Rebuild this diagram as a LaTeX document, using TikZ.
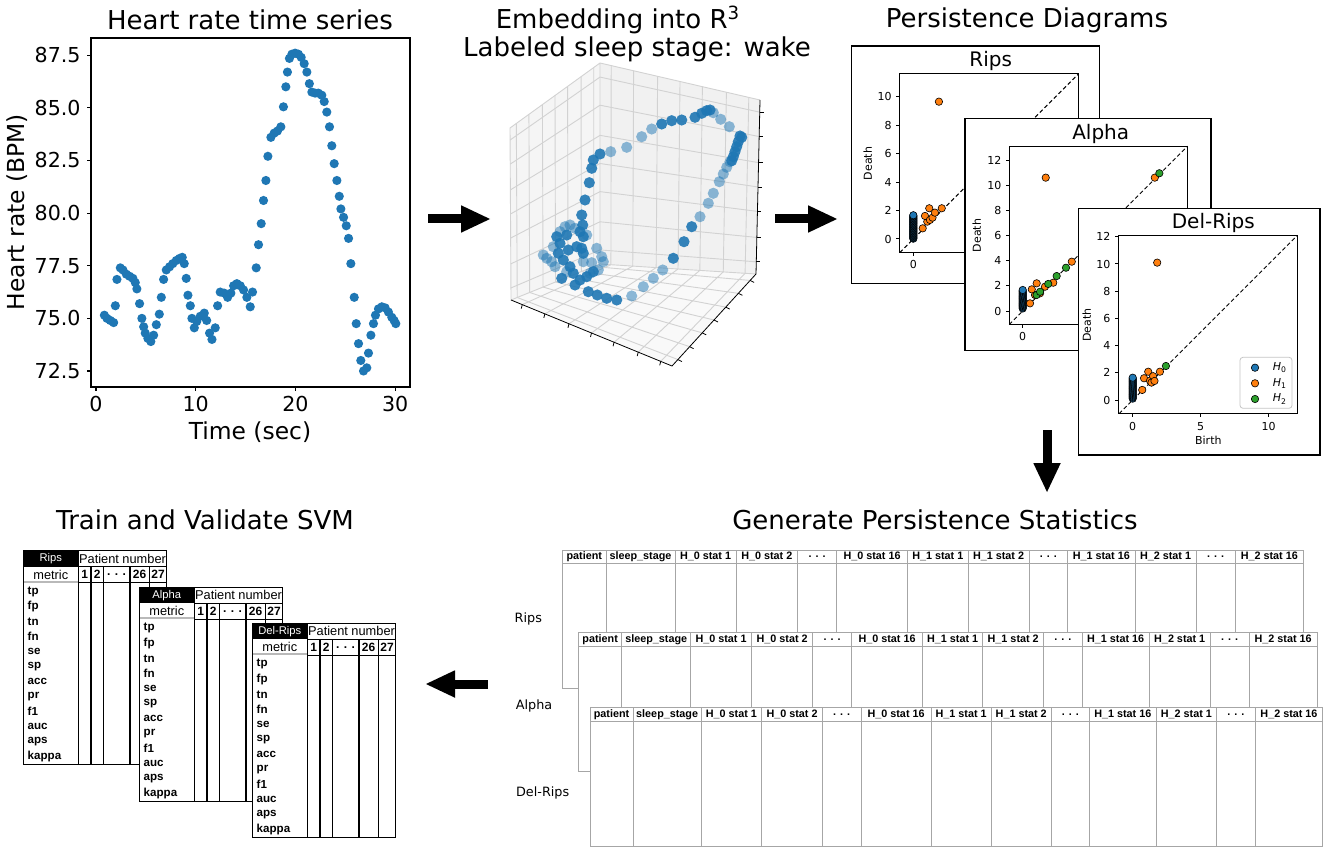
\documentclass[tikz,border=0pt]{standalone}
\usepackage{fontspec}
\setmainfont{DejaVu Sans}
\newfontfamily\tabfont{Liberation Sans}
\usetikzlibrary{arrows.meta,calc}
\definecolor{mplblue}{HTML}{1F77B4}
\definecolor{mplorange}{HTML}{FF7F0E}
\definecolor{mplgreen}{HTML}{2CA02C}

\begin{document}
\begin{tikzpicture}
[x=0.5pt, y=-0.5pt,
  titletext/.style={font=\fontsize{13}{15}\selectfont, inner sep=0pt, anchor=base},%
  axislabel/.style={font=\fontsize{11.7}{13}\selectfont, inner sep=0pt},%
  hrtick/.style={font=\fontsize{10.3}{12}\selectfont, inner sep=0pt},%
  axisline/.style={line width=0.6pt},%
  hrdot/.style={fill=mplblue},%
  gridline/.style={draw=gray!35, line width=0.45pt},%
  embdark/.style={fill=mplblue, opacity=0.9},%
  emblight/.style={fill=mplblue, opacity=0.5},%
  bigarrow/.style={line width=4.5pt, -{Triangle[length=15pt,width=12.5pt]}},%
  pdframe/.style={draw, line width=0.65pt, fill=white},%
  pdaxis/.style={line width=0.5pt},%
  pddiag/.style={dash pattern=on 2pt off 1.3pt, line width=0.5pt},%
  pdtitle/.style={font=\fontsize{10}{12}\selectfont, inner sep=0pt},%
  pdtick/.style={font=\fontsize{5.5}{6.5}\selectfont, inner sep=0pt},%
  hzero/.style={fill=mplblue, draw=black, line width=0.3pt},%
  hone/.style={fill=mplorange, draw=black, line width=0.3pt},%
  htwo/.style={fill=mplgreen, draw=black, line width=0.3pt},%
  statline/.style={draw=gray!70, line width=0.5pt},%
  stathead/.style={font=\tabfont\bfseries\fontsize{5.4}{6}\selectfont, inner sep=0pt},%
  statname/.style={font=\fontsize{6.4}{7.5}\selectfont, inner sep=0pt},%
  svmline/.style={line width=0.65pt},%
  svmhead/.style={font=\tabfont\fontsize{5.6}{6.5}\selectfont, inner sep=0pt},%
  svmtop/.style={font=\tabfont\fontsize{6.4}{7.5}\selectfont, inner sep=0pt},%
  svmnum/.style={font=\tabfont\bfseries\fontsize{6}{7}\selectfont, inner sep=0pt},%
  svmrow/.style={font=\tabfont\bfseries\fontsize{5.8}{7}\selectfont, inner sep=0pt, anchor=west}]
\useasboundingbox (0,0) rectangle (1325,855);

%% heart rate time series
\node[titletext] (hrtitle) at (250,29.3) {Heart rate time series};
\draw[axisline] (91,38) rectangle (410,387);
\foreach \t in {0,10,20,30} {
  \draw[axisline] (96+9.97*\t,387) -- ++(0,4);
  \node[hrtick, anchor=north] (hrx\t) at (96+9.97*\t,396) {\t};
}
\foreach \v [count=\k] in {72.5,75.0,77.5,80.0,82.5,85.0,87.5} {
  \draw[axisline] (91,{371-21.05*(\v-72.5)}) -- ++(-4,0);
  \node[hrtick, anchor=east] (hry\k) at (81,{371-21.05*(\v-72.5)}) {\v};
}
\node[axislabel] (hrxlabel) at (250,432) {Time (sec)};
\node[axislabel, rotate=90] (hrylabel) at (17,212) {Heart rate (BPM)};
\begin{scope}[shift={(96,371)}, x=4.985pt, y=10.525pt]
\foreach \t/\v in {0.84/75.15, 1.1/75.0, 1.44/74.9, 1.77/74.8, 1.94/75.6, 2.1/76.85,
  2.44/77.4, 2.7/77.3, 3.04/77.1, 3.37/77.0, 3.7/76.9, 3.94/76.7, 4.1/76.4, 4.37/75.7,
  4.6/75.0, 4.78/74.6, 4.94/74.3, 5.2/74.05, 5.5/73.9, 5.78/74.2, 6.05/74.7, 6.35/75.2,
  6.55/76.0, 6.78/76.85, 7.05/77.3, 7.38/77.45, 7.7/77.6, 8.05/77.75, 8.39/77.85,
  8.65/77.9, 8.85/77.6, 9.05/76.9, 9.22/76.1, 9.46/75.6, 9.62/75.0, 9.86/74.55,
  10.1/74.85, 10.46/75.1, 10.86/75.25, 11.1/74.9, 11.39/74.3, 11.63/74.0, 11.96/74.55,
  12.2/75.6, 12.46/76.25, 12.86/76.2, 13.2/76.0, 13.53/76.2, 13.8/76.55, 14.13/76.65,
  14.47/76.55, 14.8/76.35, 15.13/76.0, 15.47/75.55, 15.7/76.25, 16.07/77.4, 16.3/78.5,
  16.57/79.5, 16.8/80.6, 17.04/81.55, 17.24/82.7, 17.54/83.6, 17.87/83.8, 18.2/83.9,
  18.54/84.1, 18.8/85.05, 19.04/86.0, 19.2/86.7, 19.4/87.35, 19.65/87.55, 19.98/87.6,
  20.3/87.55, 20.58/87.4, 20.88/87.1, 21.15/86.7, 21.4/86.15, 21.65/85.75, 21.98/85.7,
  22.3/85.7, 22.65/85.6, 22.89/85.3, 23.15/84.8, 23.42/84.1, 23.65/83.2, 23.89/82.35,
  24.16/81.55, 24.4/80.8, 24.56/80.2, 24.83/79.8, 25.1/79.4, 25.33/78.8, 25.56/77.6,
  25.9/76.0, 26.1/74.75, 26.33/73.8, 26.56/73.0, 26.83/72.5, 27.16/72.65, 27.33/73.35,
  27.57/74.2, 27.83/74.75, 28.03/75.15, 28.33/75.45, 28.67/75.55, 29.0/75.5, 29.33/75.3,
  29.67/75.05, 29.9/74.9, 30.07/74.75}
  \fill[hrdot] (\t,\v-72.5) circle (2.3pt);
\end{scope}

%% embedding into R^3
\node[titletext] (embtitle) at (618,28.3) {Embedding into R\textsuperscript{3}};
\node[titletext] (embstage) at (637,56.7) {Labeled sleep stage: wake};
\coordinate (lb) at (511,300);
\coordinate (bb) at (600,264);
\coordinate (bt) at (600,63);
\coordinate (lt) at (510,128);
\coordinate (rb) at (756,274);
\coordinate (rt) at (760,100);
\coordinate (fr) at (672,366);
\fill[gray!8] (lb) -- (bb) -- (bt) -- (lt) -- cycle;
\fill[gray!11] (bb) -- (rb) -- (rt) -- (bt) -- cycle;
\fill[gray!5] (lb) -- (bb) -- (rb) -- (fr) -- cycle;
\draw[gridline] (lt) -- (bt) -- (rt) (bt) -- (bb) (lt) -- (lb) -- (bb) -- (rb);
\foreach \s in {0.07,0.21,0.36,0.5,0.64,0.79,0.93} {
  \draw[gridline] ($(lb)!\s!(bb)$) -- ($(lt)!\s!(bt)$);
  \draw[gridline] ($(lb)!\s!(lt)$) -- ($(bb)!\s!(bt)$);
  \draw[gridline] ($(bb)!\s!(rb)$) -- ($(bt)!\s!(rt)$);
  \draw[gridline] ($(bb)!\s!(bt)$) -- ($(rb)!\s!(rt)$);
  \draw[gridline] ($(lb)!\s!(bb)$) -- ($(fr)!\s!(rb)$);
  \draw[gridline] ($(lb)!\s!(fr)$) -- ($(bb)!\s!(rb)$);
  \draw[line width=0.4pt] ($(lb)!\s!(fr)$) -- ++(-1,4);
  \draw[line width=0.4pt] ($(fr)!\s!(rb)$) -- ++(4,2);
  \draw[line width=0.4pt] ($(rb)!\s!(rt)$) -- ++(4,0);
}
\draw[line width=0.4pt] (lb) -- (fr) -- (rb) -- (rt);
\foreach \x/\y in {631.7/296, 643.3/286.7, 653.3/278.3, 662.7/270, 700/216.7, 708.3/203.3,
  713.3/193.3, 719.3/181.7, 723.3/174, 726.7/167.3, 730/161.7, 729.3/126.7, 720.7/119.3,
  713.3/112.7, 651.7/129, 641.7/136.7, 626.7/147.3, 610.7/151.7, 543.3/255, 546.7/258.3,
  551.7/261.7, 565/226.7, 570/225, 575/228.3, 586.7/235, 596.7/248.3, 601.7/256.7,
  603.3/261.7, 598.3/270, 591.7/262.7, 560/231.7, 553.3/246.7, 566.7/271.7, 555/266.7,
  583.3/261.7, 590/273.3}
  \fill[emblight] (\x,\y) circle (2.8pt);
\foreach \x/\y in {588.3/291.7, 597.3/295, 606.7/298.3, 616.7/300, 580/280, 575/285,
  561.7/278.3, 573.3/273.3, 583.3/253.3, 581.7/248.3, 583.3/236.7, 582.7/225, 581.7/215,
  585/200, 589.3/182.7, 591.7/168.3, 593.3/160, 600/154, 661.7/124, 671.7/120.7,
  681.7/120, 695/117.3, 701.7/113.3, 706.7/110.7, 710/110, 740/136, 741.7/137.3,
  738.3/141.7, 736.7/146.7, 735/151.7, 733.3/156.7, 731.7/160.7, 691.7/226.7, 684/241.7,
  673.3/258.3, 560/243.3, 558.3/253.3, 563.3/260, 570/266.7, 586.7/276.7, 593.3/271.7,
  556.7/236.7, 566.7/235, 580/231.7, 576.7/246.7, 568.3/250}
  \fill[embdark] (\x,\y) circle (2.8pt);

%% persistence diagrams
\node[titletext] (pdtitle) at (1027,28) {Persistence Diagrams};
% Rips
\draw[pdframe] (851.7,46) rectangle (1099.3,283.3);
\node[pdtitle] (ripstitle) at (990.7,60.7) {Rips};
\begin{scope}[shift={(913.3,239)}, x=7.115pt, y=7.115pt]
  \draw[pdaxis] (-0.95,-0.95) rectangle (11.6,11.6);
  \draw[pddiag] (-0.95,-0.95) -- (11.6,11.6);
  \foreach \k in {0,2,...,10} {
    \draw[pdaxis] (-0.95,\k) -- ++(-1.75pt,0pt);
    \node[pdtick, anchor=east] (ripsy\k) at (-1.5,\k) {\k};
  }
  \draw[pdaxis] (0,-0.95) -- ++(0pt,-1.75pt);
  \node[pdtick, anchor=north] (ripsx0) at (0,-1.45) {0};
  \node[pdtick, rotate=90] (ripsdeath) at (-3.2,5.3) {Death};
  \foreach \v in {0.02,0.07,...,1.72}
    \filldraw[hzero] (0,\v) circle (1.85pt);
  \foreach \b/\d in {1.8/9.65, 0.66/0.75, 0.98/1.22, 0.82/1.62, 1.17/1.34, 1.35/1.5,
    1.12/2.16, 1.52/1.85, 2.0/2.16}
    \filldraw[hone] (\b,\d) circle (1.85pt);
\end{scope}
% Alpha
\draw[pdframe] (965,118.3) rectangle (1211,350.7);
\node[pdtitle] (alphatitle) at (1100.7,134) {Alpha};
\begin{scope}[shift={(1022.7,311)}, x=6.29pt, y=6.29pt]
  \draw[pdaxis] (-1.07,-1.07) rectangle (13.1,13.1);
  \draw[pddiag] (-1.07,-1.07) -- (13.1,13.1);
  \foreach \k in {0,2,...,12} {
    \draw[pdaxis] (-1.07,\k) -- ++(-1.75pt,0pt);
    \node[pdtick, anchor=east] (alphay\k) at (-1.67,\k) {\k};
  }
  \draw[pdaxis] (0,-1.07) -- ++(0pt,-1.75pt);
  \node[pdtick, anchor=north] (alphax0) at (0,-1.65) {0};
  \node[pdtick, rotate=90] (alphadeath) at (-3.66,6.0) {Death};
  \foreach \v in {0.2,0.27,...,1.7}
    \filldraw[hzero] (0,\v) circle (1.85pt);
  \foreach \b/\d in {1.83/10.6, 10.5/10.6, 0.58/0.61, 0.98/1.27, 0.72/1.72, 1.38/1.41,
    1.11/2.2, 1.77/1.93, 2.43/2.25, 3.9/3.92}
    \filldraw[hone] (\b,\d) circle (1.85pt);
  \foreach \b/\d in {10.86/10.95, 1.1/1.27, 1.38/1.53, 2.03/2.15, 2.7/2.78, 3.44/3.44}
    \filldraw[htwo] (\b,\d) circle (1.85pt);
\end{scope}
% Del-Rips
\draw[pdframe] (1078.3,208.3) rectangle (1320,455);
\node[pdtitle] (delripstitle) at (1213.3,222.7) {Del-Rips};
\begin{scope}[shift={(1132.7,400)}, x=6.8pt, y=6.8pt]
  \draw[pdaxis] (-1.04,-1.0) rectangle (12.13,12.1);
  \draw[pddiag] (-1.0,-1.0) -- (12.1,12.1);
  \foreach \k in {0,2,...,12} {
    \draw[pdaxis] (-1.04,\k) -- ++(-1.75pt,0pt);
    \node[pdtick, anchor=east] (delripsy\k) at (-1.62,\k) {\k};
  }
  \foreach \k in {0,5,10} {
    \draw[pdaxis] (\k,-1.0) -- ++(0pt,-1.75pt);
    \node[pdtick, anchor=north] (delripsx\k) at (\k,-1.6) {\k};
  }
  \node[pdtick, rotate=90] (delripsdeath) at (-3.38,5.5) {Death};
  \node[pdtick] (delripsbirth) at (5.56,-2.94) {Birth};
  \foreach \v in {0.1,0.17,...,1.7}
    \filldraw[hzero] (0,\v) circle (1.85pt);
  \foreach \b/\d in {1.8/10.1, 0.7/0.74, 0.83/1.6, 1.14/2.08, 1.27/1.42, 1.5/1.75,
    1.38/1.28, 2.0/2.08, 1.6/1.4}
    \filldraw[hone] (\b,\d) circle (1.85pt);
  \filldraw[htwo] (2.44,2.5) circle (1.85pt);
\end{scope}
\draw[rounded corners=1.5pt, draw=gray!45, fill=white, line width=0.4pt] (1240,357.3) rectangle (1292,408.3);
\foreach \y/\sty/\n in {367.7/hzero/0, 383.3/hone/1, 399/htwo/2} {
  \filldraw[\sty] (1255,\y) circle (1.85pt);
  \node[pdtick] (leg\n) at (1280,\y) {\textit{H}\textsubscript{\n}};
}

%% arrows between steps
\coordinate (a1s) at (428,219);
\coordinate (a1e) at (491,219);
\coordinate (a2s) at (775,219);
\coordinate (a2e) at (838,219);
\coordinate (a3s) at (1047,430);
\coordinate (a3e) at (1047,493);
\coordinate (a4s) at (488,684);
\coordinate (a4e) at (425,684);
\draw[bigarrow] (a1s) -- (a1e);
\draw[bigarrow] (a2s) -- (a2e);
\draw[bigarrow] (a3s) -- (a3e);
\draw[bigarrow] (a4s) -- (a4e);

%% generate persistence statistics
\node[titletext] (sttitle) at (935,529) {Generate Persistence Statistics};
\foreach \tname/\tx/\ty/\ts/\lx/\ly in {Rips/562.5/550/1/528.3/619.3,
  Alpha/578.5/632.7/0.997/534/706, Del-Rips/590/707.7/0.989/542.7/792.7} {
  \node[statname] (st\tname) at (\lx,\ly) {\tname};
  \begin{scope}[shift={(\tx,\ty)}, xscale=\ts]
    \draw[statline, fill=white] (0,0) rectangle (741,138.5);
    \draw[statline] (0,13.3) -- (741,13.3);
    \foreach \xa/\xb/\lbl [count=\c] in {0/43.5/patient, 43.5/112.5/sleep\_stage,
      112.5/173.5/H\_0 stat 1, 173.5/235/H\_0 stat 2, 235/274/. . ., 274/345/H\_0 stat 16,
      345/405.5/H\_1 stat 1, 405.5/466.5/H\_1 stat 2, 466.5/505/. . .,
      505/572.5/H\_1 stat 16, 572.5/633.5/H\_2 stat 1, 633.5/672.5/. . .,
      672.5/741/H\_2 stat 16} {
      \draw[statline] (\xb,0) -- (\xb,138.5);
      \node[stathead] (st\tname-\c) at ({(\xa+\xb)/2},6.65) {\lbl};
    }
  \end{scope}
}

%% train and validate SVM
\node[titletext] (svmtitle) at (205,529) {Train and Validate SVM};
\foreach \tname/\tx/\ty in {Rips/23.3/550.7, Alpha/139.3/587.3, Del-Rips/252.3/623.3} {
  \begin{scope}[shift={(\tx,\ty)}]
    \fill[white] (0,0) rectangle (143.4,214);
    \fill[black] (0,0) rectangle (55,16);
    \draw[gray!55, line width=1pt] (0,31) -- (55,31);
    \draw[svmline] (0,0) rectangle (143.4,214);
    \draw[svmline] (55,0) -- (55,214);
    \draw[svmline] (55,16) -- (143.4,16);
    \draw[svmline] (55,32) -- (143.4,32);
    \foreach \c in {67.7,80,106.7,126}
      \draw[svmline] (\c,16) -- (\c,214);
    \node[svmhead, text=white] (svm\tname) at (27.5,8) {\tname};
    \node[svmtop] (svm\tname-pn) at (99.2,8) {Patient number};
    \node[svmtop] (svm\tname-m) at (27.5,24) {metric};
    \foreach \c/\n [count=\k] in {61.3/1, 73.8/2, 93.3/. . ., 116.3/26, 134.7/27}
      \node[svmnum] (svm\tname-c\k) at (\c,24) {\n};
    \foreach \lbl [count=\k from 0] in {tp,fp,tn,fn,se,sp,acc,pr,f1,auc,aps,kappa}
      \node[svmrow] (svm\tname-r\k) at (4,41+15*\k) {\lbl};
  \end{scope}
}
\end{tikzpicture}
\end{document}
